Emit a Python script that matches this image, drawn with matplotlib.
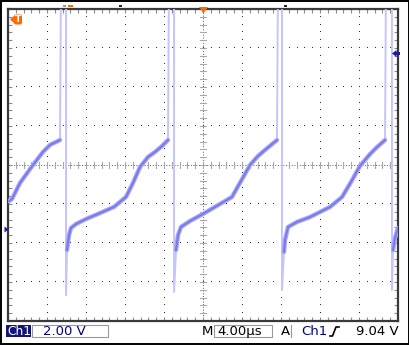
import numpy as np
import matplotlib
matplotlib.use('Agg')
import matplotlib.pyplot as plt
from matplotlib.patches import Rectangle, Polygon, FancyBboxPatch

plt.rcParams['font.family'] = ['DejaVu Sans']

# scope settings: 10 div x 8 div
T_DIV   = 4.0            # us / div
V_DIV   = 2.00           # V / div
T_RANGE = (0.0, 40.0)
V_RANGE = (-4.7, 11.3)   # ground marker sits 1.65 div below centre
TRIG_LEVEL = 9.04
V_OFF = 13.0             # edges run off the top of the screen

# ── slow ramp pieces of the trace (us, V) ──────────────────────────────
seg0_t = [0.10, 0.41, 1.23, 2.56, 3.59, 4.31, 5.33]
seg0_v = [1.45, 1.56, 2.38, 3.30, 3.97, 4.33, 4.58]

seg1_t = [6.05, 6.26, 6.46, 6.97, 8.00, 9.23, 10.87, 12.10, 12.82, 13.54,
          14.36, 15.08, 15.79, 16.41]
seg1_v = [-1.06, -0.29, 0.07, 0.27, 0.53, 0.79, 1.15, 1.66, 2.38, 3.20,
          3.71, 3.97, 4.27, 4.58]

seg2_t = [17.23, 17.44, 17.74, 18.67, 20.00, 21.74, 22.97, 23.90, 24.82,
          25.64, 26.36, 27.59]
seg2_v = [-1.06, -0.29, 0.12, 0.43, 0.79, 1.30, 1.66, 2.48, 3.30,
          3.76, 4.07, 4.58]

seg3_t = [28.31, 28.41, 28.72, 29.64, 30.97, 33.03, 34.26, 35.18, 36.10,
          37.13, 37.85, 38.67]
seg3_v = [-1.16, -0.55, 0.12, 0.38, 0.63, 1.15, 1.66, 2.43, 3.25,
          3.86, 4.22, 4.58]

seg4_t = [39.49, 39.69, 40.00]
seg4_v = [-1.06, -0.44, 0.07]

# fast edges: up-going edge, then down spike to its minimum
edge_up_t = [5.44, 16.51, 27.69, 38.77]
edge_dn_t = [5.95, 17.03, 28.10, 39.38]
edge_dn_v = [-3.37, -3.21, -3.11, -3.11]

# status bar texts
CH_NAME  = 'Ch1'
CH_SCALE = '2.00 V'
TB_TEXT  = '4.00µs'
TRIG_V   = '9.04 V'

segs_t = [seg0_t, seg1_t, seg2_t, seg3_t, seg4_t]
segs_v = [seg0_v, seg1_v, seg2_v, seg3_v, seg4_v]

W, H = 410, 345
fig = plt.figure(figsize=(W / 100, H / 100), dpi=100, facecolor='white')
ax = fig.add_axes([8 / W, (H - 321) / H, 390 / W, 312 / H])
ax.set_xlim(*T_RANGE)
ax.set_ylim(*V_RANGE)
ax.set_facecolor('white')

# ── graticule ─────────────────────────────────────────────────────────
t_c = (T_RANGE[0] + T_RANGE[1]) / 2
v_c = (V_RANGE[0] + V_RANGE[1]) / 2
t_sub = np.arange(T_RANGE[0], T_RANGE[1] + 1e-6, T_DIV / 5)
v_sub = np.arange(V_RANGE[0], V_RANGE[1] + 1e-6, V_DIV / 5)
for k in range(1, 10):
    if k == 5:
        continue
    tx = T_RANGE[0] + k * T_DIV
    ax.plot(np.full_like(v_sub, tx), v_sub, ',', color='#2a2a2a', zorder=1)
for k in range(1, 8):
    if k == 4:
        continue
    vy = V_RANGE[0] + k * V_DIV
    ax.plot(t_sub, np.full_like(t_sub, vy), ',', color='#2a2a2a', zorder=1)

# centre cross with its small tick marks
ax.axhline(v_c, color='#555555', lw=0.7, ls=(0, (1, 1.8)), zorder=1)
ax.axvline(t_c, color='#555555', lw=0.7, ls=(0, (1, 1.8)), zorder=1)
for tx in t_sub:
    ax.plot([tx, tx], [v_c - 0.16, v_c + 0.16], color='#a8a8a8', lw=0.8, zorder=1)
for vy in v_sub:
    ax.plot([t_c - 0.32, t_c + 0.32], [vy, vy], color='#a8a8a8', lw=0.8, zorder=1)

ax.set_xticks(np.arange(T_RANGE[0], T_RANGE[1] + 1e-6, T_DIV))
ax.set_xticks(t_sub, minor=True)
ax.set_yticks(np.arange(V_RANGE[0], V_RANGE[1] + 1e-6, V_DIV))
ax.set_yticks(v_sub, minor=True)
ax.tick_params(which='both', direction='in', length=3.2, width=0.8,
               color='#8c8c8c', top=True, right=True,
               labelbottom=False, labelleft=False)
for sp in ax.spines.values():
    sp.set_color('#3a3a3a')
    sp.set_linewidth(1.6)

# ── trace ─────────────────────────────────────────────────────────────
tr_t, tr_v = [], []
for k in range(len(segs_t)):
    tr_t += segs_t[k]
    tr_v += segs_v[k]
    if k < len(edge_up_t):
        tr_t += [edge_up_t[k], edge_dn_t[k], edge_dn_t[k]]
        tr_v += [V_OFF, V_OFF, edge_dn_v[k]]
ax.plot(tr_t, tr_v, color='#c4c4ff', lw=1.4, zorder=3)
for st, sv in zip(segs_t, segs_v):
    ax.plot(st, sv, color='#a8a8f7', lw=3.2, zorder=4, solid_capstyle='round')
    ax.plot(st, sv, color='#7a7aec', lw=1.5, zorder=5, solid_capstyle='round')

# ── overlay in pixel coordinates: markers and status bar ─────────────
ov = fig.add_axes([0, 0, 1, 1], zorder=10)
ov.set_xlim(0, W)
ov.set_ylim(H, 0)
ov.axis('off')

ov.add_patch(Rectangle((0.7, 0.7), W - 1.4, H - 1.4, fill=False,
                       edgecolor='black', lw=1.4))

# trigger position marker (orange T) and horizontal position marker
orange = '#ff6a00'
ov.add_patch(Polygon([[10, 19.5], [14.5, 15.5], [14.5, 23.5]], closed=True,
                     color=orange, lw=0))
ov.add_patch(FancyBboxPatch((14, 14.5), 8, 10, boxstyle='round,pad=0,rounding_size=2',
                            color=orange, lw=0))
ov.text(18, 19.8, 'T', color='white', fontsize=6.5, fontweight='bold',
        ha='center', va='center')
ov.add_patch(Polygon([[199, 7], [208, 7], [203.5, 13.5]], closed=True,
                     color=orange, lw=0))
ov.add_patch(Rectangle((63, 4.5), 3, 2, color='#9a9a9a', lw=0))
ov.add_patch(Rectangle((68, 4.5), 5, 2, color=orange, lw=0))
ov.add_patch(Rectangle((119, 4.5), 3, 2, color='#222222', lw=0))
ov.add_patch(Rectangle((284, 4.5), 3, 2, color='#222222', lw=0))

# trigger level arrow (right) and ground marker (left)
navy = '#1c1c9a'
ov.add_patch(Polygon([[392, 53.5], [396.5, 50], [396.5, 57]], closed=True,
                     color=navy, lw=0))
ov.add_patch(Rectangle((396, 52.3), 4, 2.4, color=navy, lw=0))
ov.add_patch(Polygon([[4.5, 226.5], [8.5, 229.5], [4.5, 232.5]], closed=True,
                     color=navy, lw=0))

# status bar
y_txt = 331.5
ov.add_patch(Rectangle((6.5, 325), 25, 12, color='#14147a', lw=0))
ov.text(19, y_txt, CH_NAME, color='white', fontsize=8.8,
        ha='center', va='center')
ov.add_patch(Rectangle((32, 324.5), 76, 12.5, fill=False,
                       edgecolor='#9a9a9a', lw=0.8))
ov.text(43, y_txt, CH_SCALE, color='#000080', fontsize=9.5,
        ha='left', va='center')

ov.text(213, y_txt, 'M', color='black', fontsize=9.5, ha='right', va='center')
ov.add_patch(Rectangle((214, 324.5), 58, 12.5, fill=False,
                       edgecolor='#9a9a9a', lw=0.8))
ov.text(217, y_txt, TB_TEXT, color='black', fontsize=9.5, ha='left', va='center')

ov.text(285, y_txt, 'A', color='black', fontsize=9.5, ha='center', va='center')
ov.plot([291, 291], [324.5, 337], color='#9a9a9a', lw=0.8)
ov.text(301, y_txt, CH_NAME, color='#000090', fontsize=9.5,
        ha='left', va='center')
ov.plot([330, 332.5, 336, 339], [336, 336, 327, 327], color='black', lw=1.2)
ov.text(399, y_txt, TRIG_V, color='black', fontsize=9.5, ha='right', va='center')

fig.savefig('out.png', dpi=100, facecolor='white')
